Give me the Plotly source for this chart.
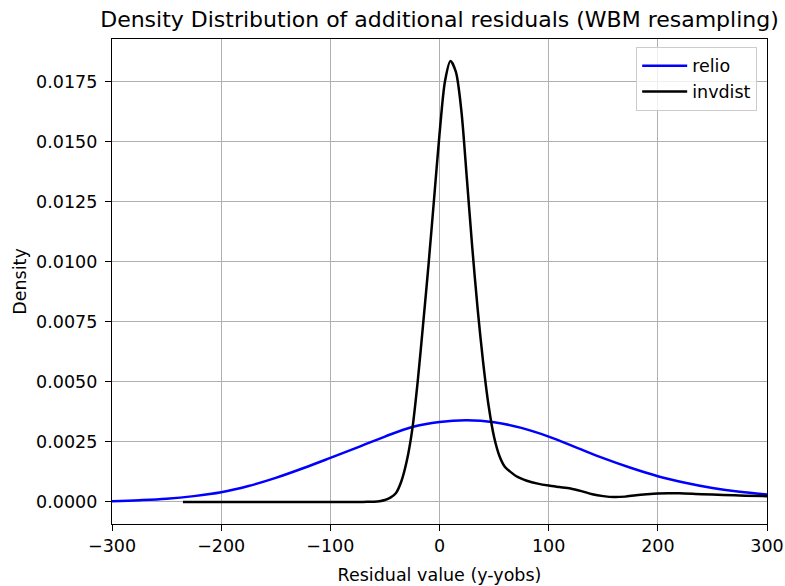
import plotly.graph_objects as go

# relio density curve
relio_x = [-300, -275, -250, -225, -200, -175, -150, -125, -100, -75, -50, -25,
           0, 25, 50, 75, 100, 125, 150, 175, 200, 225, 250, 275, 300]
relio_y = [0.00003, 0.00007, 0.00013, 0.00024, 0.00040, 0.00066, 0.00100, 0.00140,
           0.00183, 0.00227, 0.00272, 0.00312, 0.00333, 0.00340, 0.00332, 0.00308,
           0.00272, 0.00227, 0.00182, 0.00142, 0.00107, 0.00080, 0.00058, 0.00042, 0.00031]

# invdist density curve
invdist_x = [-235, -200, -150, -100, -70, -65, -60, -55, -50, -45, -40, -35, -30, -25,
             -20, -15, -10, -5, 0, 5, 10, 15, 20, 25, 30, 35, 40, 45, 50, 55, 60, 65,
             70, 75, 80, 90, 100, 110, 120, 130, 140, 150, 160, 170, 180, 190, 200,
             210, 220, 240, 260, 280, 300]
invdist_y = [0.0, 0.0, 0.0, 0.0, 0.0, 0.000005, 0.00001, 0.00003, 0.00008, 0.00018,
             0.00036, 0.00085, 0.00170, 0.00300, 0.00500, 0.00740, 0.00990, 0.01260,
             0.01530, 0.01750, 0.01835, 0.01790, 0.01630, 0.01350, 0.01060, 0.00800,
             0.00580, 0.00400, 0.00270, 0.00190, 0.00145, 0.00125, 0.00108, 0.00097,
             0.00088, 0.00076, 0.00068, 0.00062, 0.00056, 0.00045, 0.00032, 0.00024,
             0.00020, 0.00022, 0.00028, 0.00032, 0.00035, 0.00036, 0.00036, 0.00032,
             0.00029, 0.00026, 0.00024]

x_ticks = [-300, -200, -100, 0, 100, 200, 300]
y_ticks = [0.0, 0.0025, 0.005, 0.0075, 0.01, 0.0125, 0.015, 0.0175]

FONT = "DejaVu Sans"
FS = 17.5

fig = go.Figure()
fig.add_trace(go.Scatter(x=relio_x, y=relio_y, mode="lines", name="relio",
                         line=dict(color="#0000ff", width=2.5, shape="spline", smoothing=1.0)))
fig.add_trace(go.Scatter(x=invdist_x, y=invdist_y, mode="lines", name="invdist",
                         line=dict(color="#000000", width=2.5, shape="spline", smoothing=0.8)))

axis_common = dict(
    showline=True, linecolor="black", linewidth=1.3, mirror=True,
    ticks="outside", ticklen=6, tickwidth=1.3, tickcolor="black",
    showgrid=True, gridcolor="#b0b0b0", gridwidth=1.3,
    zeroline=False, automargin=False,
    tickfont=dict(family=FONT, size=FS, color="black"),
)

fig.update_layout(
    width=785, height=586,
    margin=dict(l=112, r=18, t=39, b=62),
    paper_bgcolor="white", plot_bgcolor="white",
    title=dict(text="Density Distribution of additional residuals (WBM resampling)",
               font=dict(family=FONT, size=22, color="black"),
               x=0.5, xanchor="center", xref="paper",
               y=1 - 19 / 586, yanchor="middle", yref="container"),
    xaxis=dict(range=[-300, 300], tickvals=x_ticks, ticklabelstandoff=0,
               title=dict(text="Residual value (y-yobs)", standoff=13,
                          font=dict(family=FONT, size=FS, color="black")),
               **axis_common),
    yaxis=dict(range=[-0.00092, 0.01927], tickvals=y_ticks, tickformat=".4f",
               ticklabelstandoff=4,
               title=dict(text="Density", standoff=4,
                          font=dict(family=FONT, size=FS, color="black")),
               **axis_common),
    legend=dict(x=0.985, y=0.984, xanchor="right", yanchor="top",
                bgcolor="rgba(255,255,255,0.8)", bordercolor="#cccccc", borderwidth=1,
                font=dict(family=FONT, size=FS, color="black"),
                itemwidth=45),
    showlegend=True,
)

fig.write_html("out.html", config={"displayModeBar": False},
               post_script="document.body.style.margin='0';document.body.style.padding='0';")
